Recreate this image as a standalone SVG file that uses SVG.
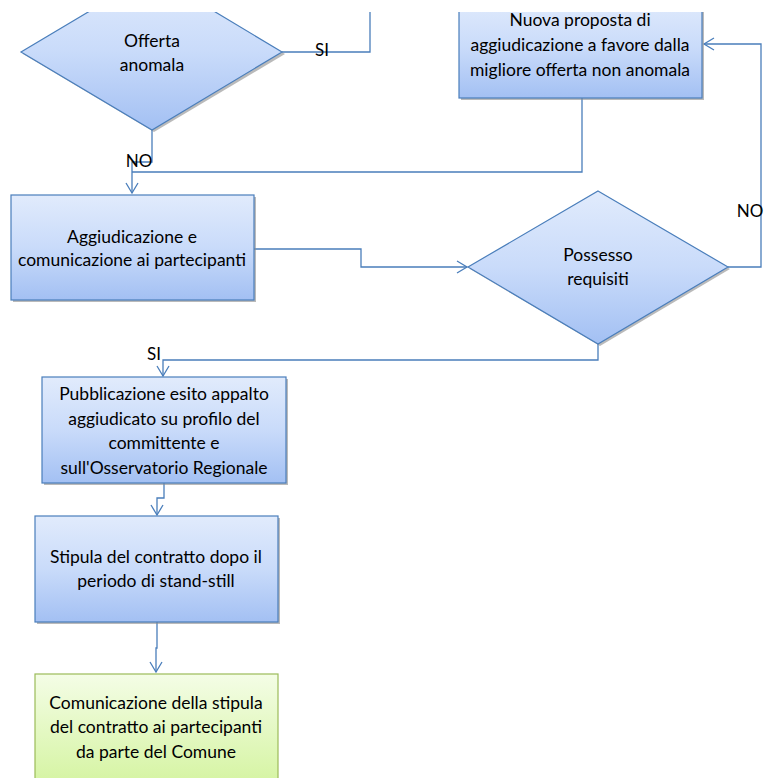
<svg xmlns="http://www.w3.org/2000/svg" width="764" height="778" viewBox="0 0 764 778">
<style>
.box{stroke:#4a7ebb;stroke-width:1.2}
.blue{fill:url(#gb)}
.green{fill:url(#gg);stroke:#9bbb59;stroke-width:1.2}
.sh{fill:#8c8c8c;opacity:0.6}
.t{font-family:Lato,"Liberation Sans",sans-serif;font-size:17.5px;fill:#000;text-anchor:middle}
.l{font-family:Lato,"Liberation Sans",sans-serif;font-size:17px;fill:#000;text-anchor:middle}
.c{fill:none;stroke:#4a7ebb;stroke-width:1.3}
</style>
<defs>
<linearGradient id="gb" x1="0" y1="0" x2="0" y2="1"><stop offset="0" stop-color="#e1ebfc"/><stop offset="0.5" stop-color="#c9dbfa"/><stop offset="1" stop-color="#a3c0f3"/></linearGradient>
<linearGradient id="gg" x1="0" y1="0" x2="0" y2="1"><stop offset="0" stop-color="#f4fde6"/><stop offset="1" stop-color="#d5f4a2"/></linearGradient>
<marker id="ar" markerUnits="userSpaceOnUse" markerWidth="14" markerHeight="14" viewBox="-12 -7 14 14" refX="0" refY="0" orient="auto"><path d="M-10,-6 L0,0 L-10,6" fill="none" stroke="#4a7ebb" stroke-width="1.3"/></marker>
<clipPath id="cp"><rect x="0" y="12" width="764" height="766"/></clipPath>
</defs>
<rect width="764" height="778" fill="#fff"/>
<g clip-path="url(#cp)">
<g id="connectors">
<path class="c" d="M282,52 H370 V0"/>
<path class="c" d="M152,130 V162 H132 V193" marker-end="url(#ar)"/>
<path class="c" d="M582,98 V172 H132"/>
<path class="c" d="M254,249 H361 V267 H467" marker-end="url(#ar)"/>
<path class="c" d="M728,267 H761 V44 H704" marker-end="url(#ar)"/>
<path class="c" d="M598,344 V360 H163 V376" marker-end="url(#ar)"/>
<path class="c" d="M164,483 V498 H157 V515" marker-end="url(#ar)"/>
<path class="c" d="M157,622 V648 H156 V672" marker-end="url(#ar)"/>
</g>
<g id="offerta">
<polygon class="sh" points="154,-24 285,54 154,132 23,54"/>
<polygon class="box blue" points="152,-26 282,52 152,130 21,52"/>
<text class="t" x="152" y="47">Offerta</text>
<text class="t" x="152" y="71">anomala</text>
</g>
<g id="nuova">
<rect class="sh" x="461" y="0" width="243" height="100"/>
<rect class="box blue" x="459" y="-2" width="243" height="100"/>
<text class="t" x="580" y="26">Nuova proposta di</text>
<text class="t" x="580" y="51">aggiudicazione a favore dalla</text>
<text class="t" x="580" y="76">migliore offerta non anomala</text>
</g>
<g id="aggiudicazione">
<rect class="sh" x="13" y="197" width="243" height="105"/>
<rect class="box blue" x="11" y="195" width="243" height="105"/>
<text class="t" x="132" y="243">Aggiudicazione e</text>
<text class="t" x="132" y="266">comunicazione ai partecipanti</text>
</g>
<g id="possesso">
<polygon class="sh" points="600,193 730,269 600,346 470,269"/>
<polygon class="box blue" points="598,191 728,267 598,344 468,267"/>
<text class="t" x="598" y="261">Possesso</text>
<text class="t" x="598" y="285">requisiti</text>
</g>
<g id="pubblicazione">
<rect class="sh" x="44" y="379" width="244" height="106"/>
<rect class="box blue" x="42" y="377" width="244" height="106"/>
<text class="t" x="164" y="400">Pubblicazione esito appalto</text>
<text class="t" x="164" y="425">aggiudicato su profilo del</text>
<text class="t" x="164" y="449">committente e</text>
<text class="t" x="164" y="474">sull'Osservatorio Regionale</text>
</g>
<g id="stipula">
<rect class="sh" x="37" y="518" width="243" height="106"/>
<rect class="box blue" x="35" y="516" width="243" height="106"/>
<text class="t" x="156" y="563">Stipula del contratto dopo il</text>
<text class="t" x="156" y="587">periodo di stand-still</text>
</g>
<g id="comunicazione">
<rect class="green" x="35" y="674" width="243" height="110"/>
<text class="t" x="156" y="709">Comunicazione della stipula</text>
<text class="t" x="156" y="733">del contratto ai partecipanti</text>
<text class="t" x="156" y="758">da parte del Comune</text>
</g>
<g id="labels">
<text class="l" x="322" y="56">SI</text>
<text class="l" x="139" y="167">NO</text>
<text class="l" x="750" y="217">NO</text>
<text class="l" x="154" y="360">SI</text>
</g>
</g>
</svg>
